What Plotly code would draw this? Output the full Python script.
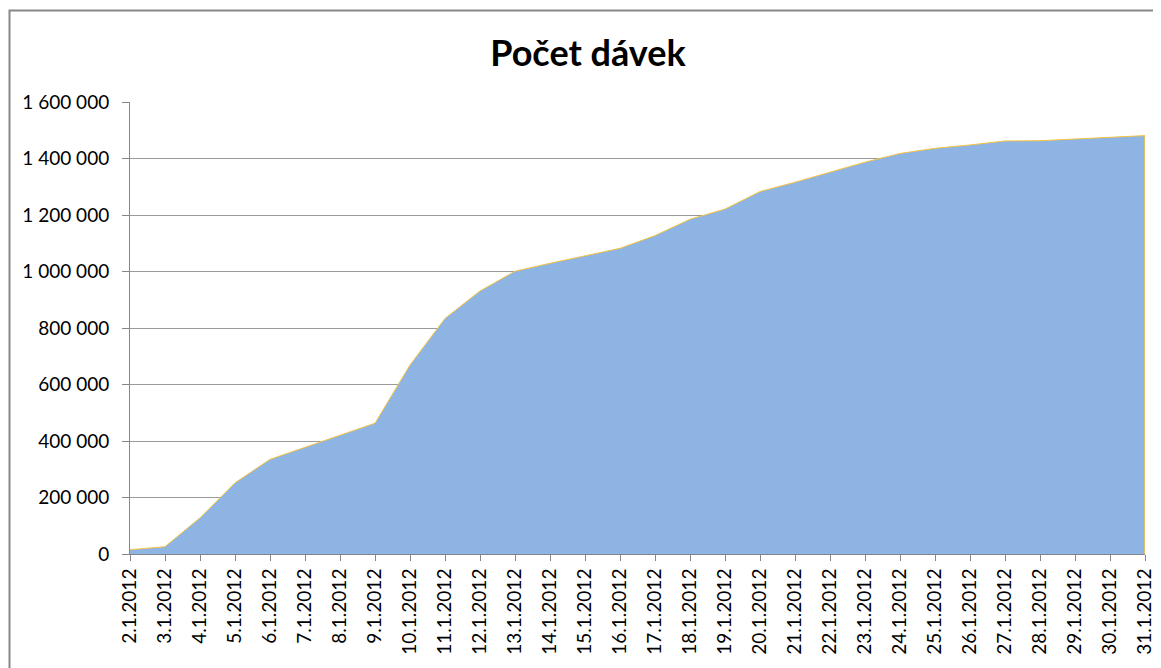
import plotly.graph_objects as go

dates = ["2.1.2012", "3.1.2012", "4.1.2012", "5.1.2012", "6.1.2012", "7.1.2012",
         "8.1.2012", "9.1.2012", "10.1.2012", "11.1.2012", "12.1.2012", "13.1.2012",
         "14.1.2012", "15.1.2012", "16.1.2012", "17.1.2012", "18.1.2012", "19.1.2012",
         "20.1.2012", "21.1.2012", "22.1.2012", "23.1.2012", "24.1.2012", "25.1.2012",
         "26.1.2012", "27.1.2012", "28.1.2012", "29.1.2012", "30.1.2012", "31.1.2012"]
davky = [15000, 26000, 128000, 252000, 335000, 378000,
         421000, 463000, 669000, 834000, 931000, 1001000,
         1029000, 1056000, 1082000, 1127000, 1185000, 1221000,
         1283000, 1316000, 1352000, 1387000, 1418000, 1436000,
         1448000, 1462000, 1463000, 1469000, 1475000, 1481000]
y_ticks = [0, 200000, 400000, 600000, 800000, 1000000, 1200000, 1400000, 1600000]

title_text = "Počet dávek"
font_family = "Lato, 'Open Sans', sans-serif"

# page has an 8px body margin; figure placed at (8, 8)
W, H = 1153, 660
ML, MR, MT, MB = 122, 16, 94, 114
plot_w = W - ML - MR
plot_h = H - MT - MB

area_fill = "#8EB4E3"
outline = "#F5C342"

fig = go.Figure()
fig.add_trace(go.Scatter(
    x=dates, y=davky, mode="lines", fill="tozeroy",
    fillcolor=area_fill, line=dict(color=outline, width=1),
    hoverinfo="x+y", showlegend=False,
))
# closing edge of the area outline at the last category
fig.add_trace(go.Scatter(
    x=[dates[-1], dates[-1]], y=[0, davky[-1]], mode="lines",
    line=dict(color=outline, width=1.5), hoverinfo="skip", showlegend=False,
))

fig.update_layout(
    width=W, height=H,
    margin=dict(l=ML, r=MR, t=MT, b=MB),
    paper_bgcolor="white", plot_bgcolor="white",
    separators=", ",
    font=dict(family=font_family, size=19, color="#000000"),
    title=dict(text="<b>" + title_text + "</b>", x=(588 - 8) / W, xref="container",
               xanchor="center", y=1 - (53 - 8) / H, yref="container", yanchor="middle",
               font=dict(family=font_family, size=36, color="#000000")),
    xaxis=dict(
        type="category", range=[0, len(dates) - 1], automargin=False,
        tickangle=-90, showgrid=False,
        showline=True, linecolor="#868686", linewidth=1,
        ticks="outside", ticklen=6, tickcolor="#868686",
        tickfont=dict(size=19, family=font_family),
    ),
    yaxis=dict(
        range=[0, 1600000], tickvals=y_ticks, tickformat=",d", automargin=False,
        showgrid=True, gridcolor="#9A9A9A", gridwidth=1,
        showline=True, linecolor="#868686", linewidth=1,
        ticks="outside", ticklen=7, tickcolor="#868686",
        ticklabelstandoff=9,
        tickfont=dict(size=19, family=font_family),
        zeroline=False,
    ),
    shapes=[dict(type="rect", xref="paper", yref="paper",
                 x0=(9.5 - 130) / plot_w, x1=1.3, y0=-1.0, y1=1 + (102 - 10.5) / plot_h,
                 line=dict(color="#878787", width=2), fillcolor="rgba(0,0,0,0)",
                 layer="below")],
)

fig.write_html("out.html")
